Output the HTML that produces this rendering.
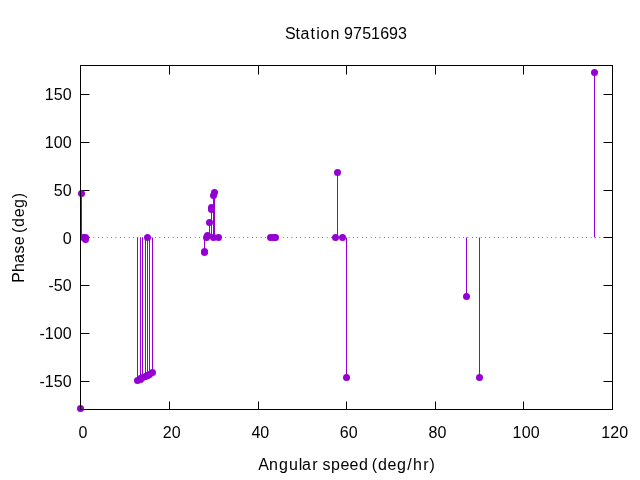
<!DOCTYPE html>
<html lang="en"><head><meta charset="utf-8"><title>Station 9751693</title>
<style>html,body{margin:0;padding:0;background:#fff;overflow:hidden}svg{display:block}text{font-family:"Liberation Sans",sans-serif;font-size:16px;fill:#000}</style></head><body>
<svg width="640" height="480" viewBox="0 0 640 480">
<rect width="640" height="480" fill="#fff"/>
<path d="M80.5 94.5h9M612.5 94.5h-9M80.5 142.5h9M612.5 142.5h-9M80.5 190.5h9M612.5 190.5h-9M80.5 237.5h9M612.5 237.5h-9M80.5 285.5h9M612.5 285.5h-9M80.5 333.5h9M612.5 333.5h-9M80.5 381.5h9M612.5 381.5h-9M169.5 409.5v-8M169.5 65.5v9M258.5 409.5v-8M258.5 65.5v9M346.5 409.5v-8M346.5 65.5v9M435.5 409.5v-8M435.5 65.5v9M523.5 409.5v-8M523.5 65.5v9" stroke="#000" stroke-width="1" fill="none"/>
<line x1="80.44" y1="237.5" x2="612.5" y2="237.5" stroke="#000" stroke-width="1" stroke-dasharray="0.5 3.9"/>
<g stroke="#9400d3" stroke-width="1" fill="none">
<line x1="81.5" y1="237.5" x2="81.5" y2="193.5"/>
<line x1="80.5" y1="237.5" x2="80.5" y2="408.5"/>
<line x1="85.5" y1="237.5" x2="85.5" y2="239.5"/>
<line x1="137.5" y1="237.5" x2="137.5" y2="380.5"/>
<line x1="140.5" y1="237.5" x2="140.5" y2="379.5"/>
<line x1="140.5" y1="237.5" x2="140.5" y2="378.5"/>
<line x1="142.5" y1="237.5" x2="142.5" y2="377.5"/>
<line x1="145.5" y1="237.5" x2="145.5" y2="376.5"/>
<line x1="147.5" y1="237.5" x2="147.5" y2="375.5"/>
<line x1="147.5" y1="237.5" x2="147.5" y2="375.5"/>
<line x1="149.5" y1="237.5" x2="149.5" y2="374.5"/>
<line x1="152.5" y1="237.5" x2="152.5" y2="372.5"/>
<line x1="204.5" y1="237.5" x2="204.5" y2="251.5"/>
<line x1="204.5" y1="237.5" x2="204.5" y2="252.5"/>
<line x1="207.5" y1="237.5" x2="207.5" y2="235.5"/>
<line x1="209.5" y1="237.5" x2="209.5" y2="222.5"/>
<line x1="211.5" y1="237.5" x2="211.5" y2="207.5"/>
<line x1="211.5" y1="237.5" x2="211.5" y2="209.5"/>
<line x1="213.5" y1="237.5" x2="213.5" y2="195.5"/>
<line x1="214.5" y1="237.5" x2="214.5" y2="192.5"/>
<line x1="337.5" y1="237.5" x2="337.5" y2="172.5"/>
<line x1="346.5" y1="237.5" x2="346.5" y2="377.5"/>
<line x1="466.5" y1="237.5" x2="466.5" y2="296.5"/>
<line x1="479.5" y1="237.5" x2="479.5" y2="377.5"/>
<line x1="594.5" y1="237.5" x2="594.5" y2="72.5"/>
</g>
<g fill="#9400d3">
<circle cx="81.5" cy="193.5" r="3.5"/>
<circle cx="80.5" cy="408.5" r="3.5"/>
<circle cx="83.5" cy="237.5" r="3.5"/>
<circle cx="85.5" cy="237.5" r="3.5"/>
<circle cx="85.5" cy="239.5" r="3.5"/>
<circle cx="137.5" cy="380.5" r="3.5"/>
<circle cx="140.5" cy="379.5" r="3.5"/>
<circle cx="140.5" cy="378.5" r="3.5"/>
<circle cx="142.5" cy="377.5" r="3.5"/>
<circle cx="145.5" cy="376.5" r="3.5"/>
<circle cx="147.5" cy="375.5" r="3.5"/>
<circle cx="147.5" cy="375.5" r="3.5"/>
<circle cx="149.5" cy="374.5" r="3.5"/>
<circle cx="152.5" cy="372.5" r="3.5"/>
<circle cx="147.5" cy="237.5" r="3.5"/>
<circle cx="204.5" cy="251.5" r="3.5"/>
<circle cx="204.5" cy="252.5" r="3.5"/>
<circle cx="206.5" cy="237.5" r="3.5"/>
<circle cx="207.5" cy="235.5" r="3.5"/>
<circle cx="209.5" cy="222.5" r="3.5"/>
<circle cx="211.5" cy="207.5" r="3.5"/>
<circle cx="211.5" cy="209.5" r="3.5"/>
<circle cx="213.5" cy="195.5" r="3.5"/>
<circle cx="214.5" cy="192.5" r="3.5"/>
<circle cx="213.5" cy="237.5" r="3.5"/>
<circle cx="218.5" cy="237.5" r="3.5"/>
<circle cx="270.5" cy="237.5" r="3.5"/>
<circle cx="273.5" cy="237.5" r="3.5"/>
<circle cx="275.5" cy="237.5" r="3.5"/>
<circle cx="335.5" cy="237.5" r="3.5"/>
<circle cx="337.5" cy="172.5" r="3.5"/>
<circle cx="342.5" cy="237.5" r="3.5"/>
<circle cx="346.5" cy="377.5" r="3.5"/>
<circle cx="466.5" cy="296.5" r="3.5"/>
<circle cx="479.5" cy="377.5" r="3.5"/>
<circle cx="594.5" cy="72.5" r="3.5"/>
</g>
<rect x="80.5" y="65.5" width="532.0" height="344.0" stroke="#000" stroke-width="1" fill="none"/>
<g>
<text x="44.65 53.79 62.73" y="100">150</text>
<text x="44.65 53.73 62.73" y="148">100</text>
<text x="53.79 62.73" y="196">50</text>
<text x="62.73" y="244">0</text>
<text x="48.51 53.79 62.73" y="291">-50</text>
<text x="39.51 44.65 53.73 62.73" y="339">-100</text>
<text x="39.51 44.65 53.79 62.73" y="387">-150</text>
<text x="78.40" y="438">0</text>
<text x="162.63 171.66" y="438">20</text>
<text x="251.43 260.37" y="438">40</text>
<text x="339.86 348.85" y="438">60</text>
<text x="428.44 437.45" y="438">80</text>
<text x="512.60 521.68 530.68" y="438">100</text>
<text x="601.25 610.30 619.33" y="438">120</text>
<text x="285.09 295.55 300.42 310.55 316.30 320.40 330.52 339.78 344.11 353.08 362.19 371.05 380.14 389.11 398.08" y="39">Station 9751693</text>
<text x="258.27 269.02 278.91 288.96 298.78 301.92 312.30 318.28 322.45 331.03 340.61 349.61 358.91 368.28 371.87 377.91 387.61 396.91 407.25 412.99 423.30 429.61" y="470">Angular speed (deg/hr)</text>
<text x="-44.86 -34.01 -25.08 -15.55 -7.39 1.28 4.87 10.91 20.61 29.91 39.61" y="0" transform="translate(24 237.9) rotate(-90)">Phase (deg)</text>
</g>
</svg></body></html>
